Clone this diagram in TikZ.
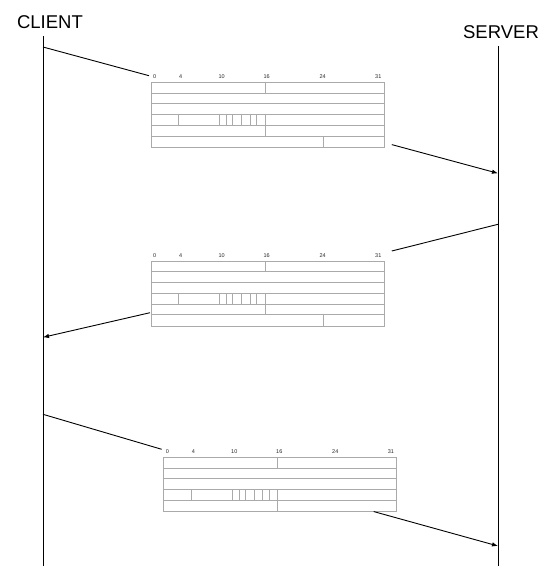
\documentclass[tikz,border=0pt]{standalone}
\usepackage{fontspec}
\setmainfont{Liberation Sans}
\usetikzlibrary{arrows.meta, positioning}
\definecolor{fieldgray}{RGB}{170,170,170}
\definecolor{labelgray}{RGB}{40,40,40}
\tikzset{
    party/.style={font=\fontsize{18.5}{20}\selectfont, inner sep=0pt},
    lifeline/.style={line width=1pt, black},
    packet/.style={rectangle, draw=fieldgray, line width=0.8pt, minimum width=233pt,
        inner sep=0pt, anchor=north west},
    field/.style={draw=fieldgray, line width=0.8pt},
    bitlabel/.style={font=\fontsize{5.5}{6}\selectfont, text=labelgray, inner sep=0pt},
    msgline/.style={line width=0.9pt},
    msg/.style={-{Latex[length=6pt, width=4.5pt]}, line width=0.9pt}
}
% field lines of one header, #1 = packet node, #2 = number of rows
\newcommand{\headerfields}[2]{%
    \begin{scope}[shift={(#1.north west)}]
        \foreach \r in {1,...,5} {
            \ifnum\r<#2 \draw[field] (0,\r*10.75) -- (233,\r*10.75); \fi
        }
        \draw[field] (114.3,0) -- (114.3,10.75);
        \draw[field] (28,32.25) -- (28,43);
        \foreach \px in {68.6,75.6,81.6,91,99.3,105.6}
            \draw[field] (\px,32.25) -- (\px,43);
        \draw[field] (114.3,32.25) -- (114.3,53.75);
        \ifnum#2>5 \draw[field] (172.6,53.75) -- (172.6,64.5); \fi
        \foreach \bit/\px in {0/4,4/30,10/71,16/116,24/172,31/227.6}
            \node[bitlabel] (#1-\bit) at (\px,-5.5) {\bit};
    \end{scope}}

\begin{document}
\begin{tikzpicture}[x=1pt, y=-1pt]
    \useasboundingbox (0,0) rectangle (549,581);

    \node[party] (client) at (50,21.7) {CLIENT};
    \node[party] (server) at (501,31.7) {SERVER};

    \coordinate (ctop) at (43,36);
    \coordinate (cbot) at (43,566);
    \coordinate (stop) at (498,46);
    \coordinate (sbot) at (498,566);
    \draw[lifeline] (ctop) -- (cbot);
    \draw[lifeline] (stop) -- (sbot);

    % headers
    \node[packet, minimum height=64.5pt] (hdrA) at (150.7,82.3) {};
    \node[packet, minimum height=64.5pt] (hdrB) at (150.7,261) {};
    \node[packet, minimum height=53.75pt] (hdrC) at (163.3,457.3) {};
    \headerfields{hdrA}{6}
    \headerfields{hdrB}{6}
    \headerfields{hdrC}{5}

    % message points on the lifelines
    \coordinate (c1) at (43,47);
    \coordinate (s1) at (498,173.3);
    \coordinate (s2) at (498,224.3);
    \coordinate (c2) at (43,337.3);
    \coordinate (c3) at (43,414.3);
    \coordinate (s3) at (498,546);

    \draw[msgline] (c1) -- ([shift={(-1.7,-6.6)}]hdrA.north west);
    \draw[msg] ([shift={(7.3,-3)}]hdrA.south east) -- (s1);
    \draw[msgline] (s2) -- ([shift={(7.3,-10)}]hdrB.north east);
    \draw[msg] ([shift={(-0.7,-13.6)}]hdrB.south west) -- (c2);
    \draw[msgline] (c3) -- ([shift={(-1.6,-8)}]hdrC.north west);
    \draw[msg] ([shift={(-23.4,-0.3)}]hdrC.south east) -- (s3);
\end{tikzpicture}
\end{document}
